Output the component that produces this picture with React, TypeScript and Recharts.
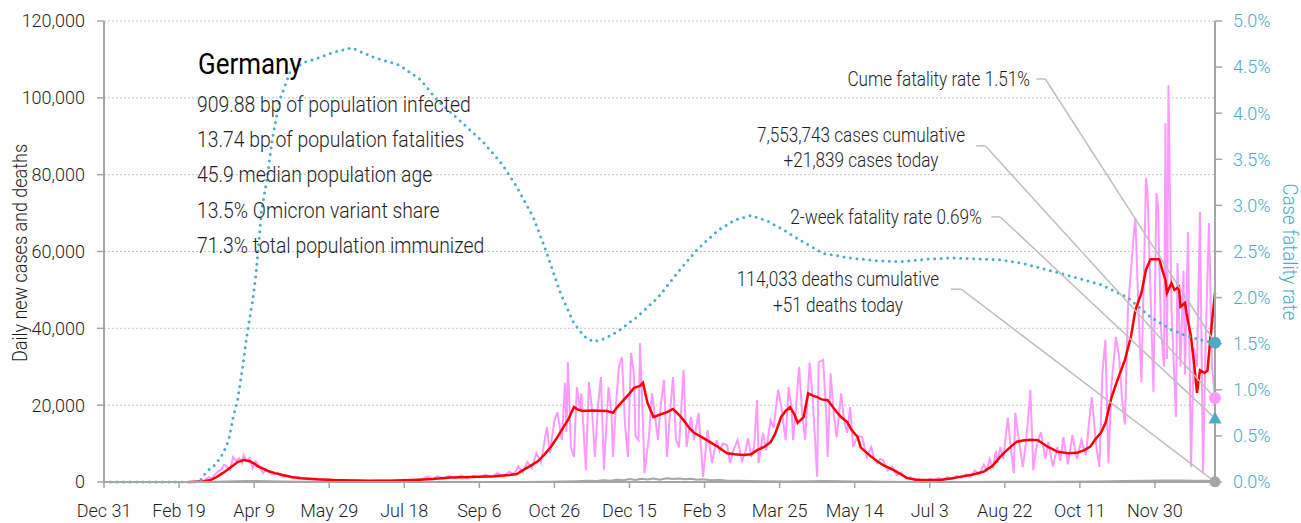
import React from 'react';
import { ComposedChart, Line, XAxis, YAxis, CartesianGrid, ReferenceLine, Scatter } from 'recharts';

// x values are days since Dec 31, 2019
const tickDays = [0, 50, 100, 150, 200, 250, 300, 350, 400, 450, 500, 550, 600, 650, 700];
const tickLabels = ['Dec 31', 'Feb 19', 'Apr 9', 'May 29', 'Jul 18', 'Sep 6', 'Oct 26', 'Dec 15', 'Feb 3', 'Mar 25', 'May 14', 'Jul 3', 'Aug 22', 'Oct 11', 'Nov 30'];
const casesTicks = [0, 20000, 40000, 60000, 80000, 100000, 120000];
const rateTicks = [0, 0.5, 1, 1.5, 2, 2.5, 3, 3.5, 4, 4.5, 5];
const lastDay = 740;

// daily new cases (pink)
const dailyCases: [number, number][] = [
  [57, 0], [60, 30], [63, 100], [66, 300], [68, 800], [70, 1200], [72, 1000], [74, 2000], [76, 2800], [78, 3200],
  [80, 4500], [82, 3900], [84, 3100], [86, 6500], [88, 5500], [90, 6200], [92, 5000], [93, 7000], [95, 5600], [97, 6200],
  [99, 3600], [101, 5400], [103, 4300], [106, 2300], [108, 3400], [110, 2500], [113, 1900], [116, 2300], [119, 1300], [122, 1600],
  [126, 900], [130, 1200], [135, 700], [140, 800], [146, 400], [152, 600], [160, 300], [168, 500], [176, 250], [184, 450],
  [192, 300], [200, 600], [206, 400], [212, 800], [216, 1400], [219, 700], [222, 1500], [226, 900], [230, 1600], [234, 1000],
  [238, 1700], [242, 900], [246, 1600], [250, 1200], [254, 1900], [258, 1200], [262, 2300], [266, 1500], [270, 2700], [273, 2000],
  [276, 4000], [279, 2500], [282, 5200], [285, 3600], [288, 7500], [291, 5000], [294, 12000], [295, 14300], [297, 7500], [300, 16000],
  [302, 18200], [305, 10900], [307, 25800], [308, 13000], [309, 31200], [311, 9100], [313, 6500], [315, 24700], [317, 19000], [318, 23000],
  [321, 3100], [323, 26000], [325, 19000], [327, 6500], [329, 20000], [331, 27300], [333, 3100], [336, 24700], [338, 18000], [339, 6500],
  [341, 20000], [343, 30000], [345, 32500], [347, 15000], [349, 6500], [351, 33600], [353, 28000], [354, 12000], [356, 10900], [357, 36200],
  [359, 15000], [360, 2300], [363, 12000], [365, 23100], [367, 17000], [369, 10900], [371, 20600], [373, 26600], [375, 6500], [377, 18000],
  [379, 27300], [381, 10900], [383, 9000], [386, 29200], [388, 9100], [391, 16900], [393, 11000], [396, 18000], [399, 1300], [402, 13500],
  [405, 4900], [408, 10900], [410, 8000], [412, 10000], [415, 9600], [417, 4900], [419, 8000], [422, 10900], [425, 5500], [427, 7500],
  [429, 11400], [431, 6500], [433, 9000], [435, 21300], [436, 4900], [439, 12800], [441, 8300], [444, 16100], [446, 14000], [449, 24000],
  [451, 20000], [454, 10900], [456, 24700], [458, 19000], [459, 10900], [461, 20000], [463, 30000], [465, 18000], [467, 11000], [470, 31000],
  [472, 22000], [475, 1300], [476, 31200], [479, 31800], [481, 18000], [482, 6500], [484, 28300], [486, 18000], [488, 11700], [491, 23100],
  [493, 16000], [495, 12800], [497, 19500], [499, 9100], [502, 12000], [505, 11700], [508, 6500], [511, 9100], [513, 6000], [515, 4900],
  [517, 6000], [519, 5700], [522, 3000], [525, 4000], [528, 1800], [531, 2500], [534, 900], [537, 1300], [540, 400], [543, 800],
  [546, 300], [550, 800], [553, 500], [556, 1000], [559, 600], [562, 1300], [565, 700], [568, 1600], [571, 1000], [574, 2000],
  [577, 1300], [580, 3000], [583, 2000], [586, 4500], [588, 3000], [590, 6000], [592, 3500], [594, 8000], [595, 5000], [597, 9100],
  [599, 6000], [602, 16700], [604, 9000], [606, 2300], [607, 18000], [609, 12000], [612, 3900], [614, 10000], [616, 18700], [617, 24000],
  [618, 14000], [619, 3100], [621, 9000], [624, 13000], [627, 6000], [629, 10400], [632, 4000], [635, 9100], [637, 5500], [639, 11700],
  [642, 4600], [645, 12200], [648, 6000], [651, 10900], [654, 7000], [656, 15000], [658, 22100], [661, 9000], [663, 3900], [665, 28400],
  [667, 37000], [669, 4900], [671, 25000], [674, 37700], [676, 33000], [678, 22000], [680, 15000], [682, 45000], [684, 55000], [686, 65000],
  [687, 68700], [689, 45000], [691, 26000], [693, 60000], [694, 79100], [695, 76000], [697, 50000], [699, 23400], [701, 75200], [702, 72000],
  [704, 40000], [706, 30000], [707, 93400], [708, 32000], [709, 103300], [711, 45000], [714, 16900], [715, 57000], [717, 30000], [719, 55000],
  [720, 28000], [722, 65100], [724, 3900], [726, 35000], [728, 30000], [730, 70300], [732, 2300], [734, 40000], [736, 67400], [738, 30000],
  [740, 21839],
];

// 7-day average of new cases (red)
const avgCases: [number, number][] = [
  [57, 0], [65, 100], [71, 500], [75, 1300], [79, 2300], [82, 3100], [86, 4300], [89, 5200], [93, 5700], [97, 5400],
  [100, 4800], [102, 4200], [106, 3500], [109, 2900], [114, 2300], [119, 1800], [125, 1300], [131, 1000], [142, 700], [153, 500],
  [165, 400], [175, 350], [190, 350], [200, 450], [210, 600], [219, 800], [225, 1000], [231, 1200], [245, 1300], [260, 1500],
  [270, 1800], [275, 2100], [279, 3100], [284, 4200], [289, 5400], [293, 7000], [298, 9300], [302, 11700], [306, 14300], [309, 16100],
  [313, 19500], [316, 18800], [319, 18500], [325, 18600], [335, 18500], [339, 18000], [343, 20000], [346, 21300], [350, 23000], [353, 24500],
  [357, 25000], [359, 25800], [362, 20600], [366, 16900], [370, 17500], [375, 18200], [379, 19000], [383, 17500], [386, 16100], [390, 14000],
  [393, 12800], [399, 11500], [404, 10300], [409, 9100], [415, 7500], [420, 7200], [426, 7000], [431, 7200], [435, 8300], [440, 9200],
  [444, 10400], [447, 12500], [451, 16900], [454, 18500], [457, 19500], [460, 17500], [462, 15400], [466, 16900], [469, 23100], [472, 22500],
  [475, 22100], [478, 21500], [482, 21300], [485, 19800], [488, 18200], [491, 16900], [495, 15600], [498, 13500], [502, 11700], [504, 9000],
  [506, 8300], [511, 6600], [515, 5400], [519, 4400], [526, 3100], [530, 2200], [535, 1000], [542, 500], [557, 500], [564, 900],
  [571, 1400], [578, 1900], [586, 2700], [592, 4300], [597, 6600], [600, 7800], [604, 9200], [608, 10500], [612, 10800], [617, 11000],
  [622, 10900], [628, 9300], [635, 7900], [642, 7500], [648, 7600], [653, 8300], [657, 9200], [660, 11000], [664, 12800], [667, 15300],
  [671, 21900], [675, 26500], [680, 31800], [684, 37800], [687, 44800], [691, 49200], [694, 55200], [697, 58000], [703, 58000], [705, 55000],
  [707, 52600], [708, 49200], [711, 51800], [713, 50000], [716, 50800], [717, 45600], [720, 46600], [721, 44000], [724, 37800], [726, 31000],
  [728, 23200], [730, 29100], [733, 28400], [735, 29000], [737, 37800], [740, 49200],
];

// daily new deaths (gray)
const dailyDeaths: [number, number][] = [
  [70, 0], [80, 100], [88, 200], [95, 280], [102, 250], [110, 180], [120, 110], [130, 70], [145, 40], [170, 20],
  [230, 10], [280, 20], [295, 50], [305, 120], [315, 220], [322, 300], [328, 250], [333, 450], [337, 350], [342, 600],
  [346, 450], [350, 750], [354, 550], [358, 850], [362, 650], [366, 900], [370, 600], [375, 1000], [379, 800], [383, 900],
  [387, 700], [391, 850], [395, 600], [399, 700], [404, 450], [410, 500], [415, 350], [422, 300], [430, 250], [440, 180],
  [455, 150], [470, 220], [480, 250], [490, 200], [500, 150], [510, 100], [520, 60], [540, 30], [570, 20], [600, 40],
  [630, 80], [660, 150], [680, 250], [695, 350], [705, 400], [715, 380], [725, 350], [735, 300], [740, 51],
];

// cumulative case fatality rate, % (teal dotted, right axis)
const cumeFatality: [number, number][] = [
  [0, 0], [60, 0], [65, 0.03], [68, 0.11], [72, 0.16], [75, 0.2], [77, 0.26], [79, 0.3], [83, 0.45], [86, 0.7],
  [89, 0.89], [92, 1.21], [95, 1.57], [99, 1.97], [101, 2.22], [103, 2.57], [105, 2.95], [109, 3.33], [112, 3.71], [117, 4.14],
  [124, 4.45], [133, 4.55], [143, 4.6], [153, 4.66], [165, 4.71], [179, 4.61], [197, 4.52], [211, 4.36], [222, 4.14], [237, 3.92],
  [253, 3.68], [265, 3.45], [275, 3.2], [286, 2.87], [295, 2.48], [304, 2.05], [313, 1.72], [320, 1.58], [326, 1.52], [334, 1.56],
  [342, 1.63], [355, 1.79], [369, 2.0], [382, 2.27], [395, 2.52], [409, 2.73], [420, 2.84], [431, 2.89], [442, 2.83], [453, 2.73],
  [466, 2.6], [479, 2.48], [497, 2.43], [515, 2.4], [531, 2.39], [550, 2.42], [564, 2.43], [582, 2.42], [597, 2.41], [612, 2.37],
  [624, 2.32], [640, 2.25], [664, 2.14], [682, 2.0], [697, 1.79], [711, 1.65], [719, 1.6], [730, 1.54], [740, 1.51],
];

const casesToday = 21839;
const deathsToday = 51;
const cumeRateToday = 1.51;
const twoWeekRate = 0.69;

const country = 'Germany';
const statLines = [
  '909.88 bp of population infected',
  '13.74 bp of population fatalities',
  '45.9 median population age',
  '13.5% Omicron variant share',
  '71.3% total population immunized',
];

const CASES_MAX = 120000;
const RATE_MAX = 5;
const rateToCases = (r: number) => (r * CASES_MAX) / RATE_MAX;

// annotation leaders: label anchor (left-axis units) -> end marker
const leaders = [
  { from: 621, to: 627, level: 104900, end: rateToCases(cumeRateToday) },
  { from: 581, to: 587, level: 87500, end: casesToday },
  { from: 591, to: 597, level: 69000, end: rateToCases(twoWeekRate) },
  { from: 564, to: 571, level: 50200, end: deathsToday },
];

const FONT = "Roboto, 'Liberation Sans', sans-serif";
const TEAL = '#4bacc6';
const PINK = '#ff99ff';
const AXIS = '#a6a6a6';
const INK = '#1f1f1f';

const buildRows = () => {
  const rows = new Map<number, any>();
  const put = (arr: [number, number][], key: string) =>
    arr.forEach(([d, v]) => {
      const r = rows.get(d) ?? { day: d };
      r[key] = v;
      rows.set(d, r);
    });
  put(dailyCases, 'cases');
  put(avgCases, 'avg');
  put(dailyDeaths, 'deaths');
  put(cumeFatality, 'rate');
  return [...rows.values()].sort((a, b) => a.day - b.day);
};

const rows = buildRows();

const Dot = (color: string, r: number) => (p: any) => <circle cx={p.cx} cy={p.cy} r={r} fill={color} />;
const Tri = (color: string) => (p: any) => (
  <polygon points={`${p.cx},${p.cy - 7} ${p.cx - 6.5},${p.cy + 5} ${p.cx + 6.5},${p.cy + 5}`} fill={color} />
);

// narrow-looking text: scale horizontally around the anchor point
const NText = ({ x, y, size, anchor = 'start', rotate = 0, sx = 0.88, fill = INK, weight = 300, children }: any) => (
  <g transform={`translate(${x} ${y}) rotate(${rotate}) scale(${sx} 1)`}>
    <text x={0} y={0} fontSize={size} fontWeight={weight} textAnchor={anchor} fill={fill} fontFamily={FONT}>
      {children}
    </text>
  </g>
);

export default function App() {
  const tickStyle = { fontSize: 18, fontWeight: 300, fill: INK, fontFamily: FONT };
  return (
    <div style={{ position: 'absolute', left: 0, top: 0, width: 1301, height: 523, background: '#fff', fontFamily: FONT }}>
      <ComposedChart width={1301} height={523} data={rows} margin={{ top: 21, right: 0, bottom: 0, left: 0 }}>
        <CartesianGrid yAxisId="left" vertical={false} stroke="#c4c4c4" strokeDasharray="2 2" />
        <XAxis
          dataKey="day"
          type="number"
          domain={[0, lastDay]}
          ticks={tickDays}
          tickFormatter={(v: number) => tickLabels[tickDays.indexOf(v)] ?? ''}
          height={41}
          tickSize={6}
          tickMargin={16}
          tick={tickStyle}
          axisLine={{ stroke: AXIS, strokeWidth: 2 }}
          tickLine={{ stroke: AXIS, strokeWidth: 1.5 }}
        />
        <YAxis
          yAxisId="left"
          width={104}
          domain={[0, CASES_MAX]}
          ticks={casesTicks}
          tickFormatter={(v: number) => v.toLocaleString('en-US')}
          tickSize={7}
          tickMargin={12}
          tick={tickStyle}
          axisLine={{ stroke: AXIS, strokeWidth: 2 }}
          tickLine={{ stroke: AXIS, strokeWidth: 1.5 }}
        />
        <YAxis
          yAxisId="right"
          orientation="right"
          width={86}
          domain={[0, RATE_MAX]}
          ticks={rateTicks}
          tickFormatter={(v: number) => `${v.toFixed(1)}%`}
          tickSize={7}
          tickMargin={11}
          tick={{ ...tickStyle, fill: TEAL }}
          axisLine={{ stroke: AXIS, strokeWidth: 2 }}
          tickLine={{ stroke: AXIS, strokeWidth: 1.5 }}
        />
        <Line yAxisId="left" dataKey="deaths" stroke="#a6a6a6" strokeWidth={2} dot={false} connectNulls isAnimationActive={false} />
        <Line yAxisId="left" dataKey="cases" stroke={PINK} strokeWidth={2} dot={false} connectNulls isAnimationActive={false} />
        <Line yAxisId="left" dataKey="avg" stroke="#ff0000" strokeWidth={2.5} dot={false} connectNulls isAnimationActive={false} />
        <Line
          yAxisId="right"
          dataKey="rate"
          stroke={TEAL}
          strokeWidth={3}
          strokeDasharray="0 6.5"
          strokeLinecap="round"
          dot={false}
          connectNulls
          isAnimationActive={false}
        />
        {leaders.map((l, i) => (
          <ReferenceLine
            key={`h${i}`}
            yAxisId="left"
            segment={[{ x: l.from, y: l.level }, { x: l.to, y: l.level }]}
            stroke="#bfbfbf"
            strokeWidth={1.5}
          />
        ))}
        {leaders.map((l, i) => (
          <ReferenceLine
            key={`d${i}`}
            yAxisId="left"
            segment={[{ x: l.to, y: l.level }, { x: lastDay, y: l.end }]}
            stroke="#bfbfbf"
            strokeWidth={1.5}
          />
        ))}
        <Scatter yAxisId="left" data={[{ day: lastDay, v: deathsToday }]} dataKey="v" shape={Dot('#a6a6a6', 5.5)} isAnimationActive={false} />
        <Scatter yAxisId="left" data={[{ day: lastDay, v: casesToday }]} dataKey="v" shape={Dot(PINK, 6)} isAnimationActive={false} />
        <Scatter yAxisId="right" data={[{ day: lastDay, v: twoWeekRate }]} dataKey="v" shape={Tri(TEAL)} isAnimationActive={false} />
        <Scatter yAxisId="right" data={[{ day: lastDay, v: cumeRateToday }]} dataKey="v" shape={Dot(TEAL, 6)} isAnimationActive={false} />
      </ComposedChart>

      <svg width={1301} height={523} style={{ position: 'absolute', left: 0, top: 0, pointerEvents: 'none' }}>
        <NText x={198} y={74} size={29.5} sx={0.88} weight={400} fill="#000">{country}</NText>
        {statLines.map((s, i) => (
          <NText key={i} x={197} y={112 + i * 35.2} size={22}>{s}</NText>
        ))}
        <NText x={1030} y={86} size={19.5} anchor="end">Cume fatality rate 1.51%</NText>
        <NText x={861} y={142} size={19.5} anchor="middle">7,553,743 cases cumulative</NText>
        <NText x={861} y={167} size={19.5} anchor="middle">+21,839 cases today</NText>
        <NText x={886} y={224} size={19.5} anchor="middle">2-week fatality rate 0.69%</NText>
        <NText x={838} y={286} size={19.5} anchor="middle">114,033 deaths cumulative</NText>
        <NText x={838} y={312} size={19.5} anchor="middle">+51 deaths today</NText>
        <NText x={27} y={253} size={20} anchor="middle" rotate={-90} sx={0.9}>Daily new cases and deaths</NText>
        <NText x={1283} y={252} size={20} anchor="middle" rotate={90} sx={0.93} fill={TEAL}>Case fatality rate</NText>
      </svg>
    </div>
  );
}
